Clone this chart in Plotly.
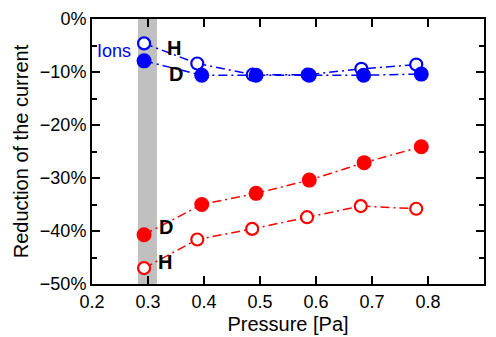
import plotly.graph_objects as go

pressure_ions_h = [0.293, 0.388, 0.487, 0.585, 0.681, 0.779]
ions_h = [-4.6, -8.4, -10.5, -10.5, -9.4, -8.6]
pressure_ions_d = [0.293, 0.396, 0.493, 0.588, 0.685, 0.788]
ions_d = [-7.9, -10.6, -10.6, -10.6, -10.6, -10.4]
pressure_el_d = [0.293, 0.396, 0.493, 0.588, 0.686, 0.788]
el_d = [-40.7, -35.0, -32.9, -30.4, -27.1, -24.1]
pressure_el_h = [0.293, 0.388, 0.486, 0.584, 0.680, 0.779]
el_h = [-47.0, -41.6, -39.6, -37.4, -35.3, -35.8]

band = [0.282, 0.316]

BLUE = "#0000ff"
RED = "#ff0000"
FONT = "Liberation Sans, Arial, sans-serif"

fig = go.Figure()

def add(xs, ys, color, filled):
    fig.add_trace(go.Scatter(
        x=xs, y=ys, mode="lines+markers",
        line=dict(color=color, width=1.5, dash="9px,4px,2px,4px"),
        marker=dict(
            size=15 if filled else 12,
            color=color if filled else "white",
            line=dict(color=color, width=0 if filled else 2.2),
        ),
        showlegend=False,
    ))

add(pressure_ions_h, ions_h, BLUE, False)
add(pressure_ions_d, ions_d, BLUE, True)
add(pressure_el_h, el_h, RED, False)
add(pressure_el_d, el_d, RED, True)

fig.add_shape(type="rect", xref="x", yref="paper", x0=band[0], x1=band[1],
              y0=0, y1=1, fillcolor="#c0c0c0", line=dict(width=0), layer="below")

ann = [
    (0.240, -6.0, "Ions", BLUE, False),
    (0.347, -5.5, "H", "black", True),
    (0.350, -10.4, "D", "black", True),
    (0.332, -39.2, "D", "black", True),
    (0.330, -45.8, "H", "black", True),
    (0.199, -44.7, "Electrons", RED, False),
]
for x, y, t, c, b in ann:
    fig.add_annotation(x=x, y=y, text=f"<b>{t}</b>" if b else t, showarrow=False,
                       font=dict(family=FONT, size=20 if b else 18, color=c))

axis_common = dict(
    showline=True, linecolor="black", linewidth=2, mirror="ticks",
    ticks="inside", tickcolor="black", tickwidth=1.5, ticklen=8,
    showgrid=False, zeroline=False, automargin=False,
    tickfont=dict(family=FONT, size=18, color="black"),
)

fig.update_xaxes(range=[0.2, 0.9], dtick=0.1, tickformat=".1f",
                 title=dict(text="Pressure [Pa]", font=dict(family=FONT, size=20, color="black"), standoff=6),
                 **axis_common)
fig.update_yaxes(range=[-50, 0], dtick=10, ticksuffix="%",
                 minor=dict(ticks="inside", dtick=5, ticklen=5, tickcolor="black", tickwidth=1.5),
                 title=dict(text="Reduction of the current", font=dict(family=FONT, size=20, color="black"), standoff=6),
                 **axis_common)

fig.update_layout(
    width=496, height=337,
    margin=dict(l=92, r=12, t=19, b=53),
    paper_bgcolor="white", plot_bgcolor="white",
)

fig.write_html("out.html")
